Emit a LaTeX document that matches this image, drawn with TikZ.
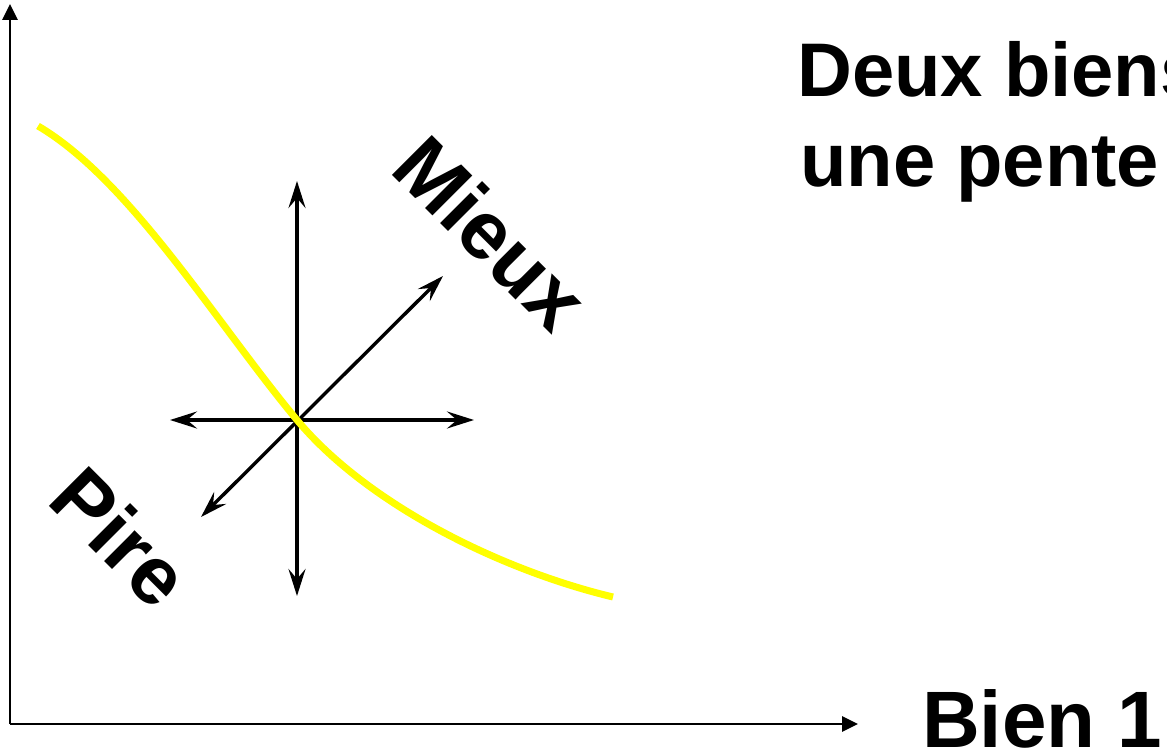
\documentclass[tikz,border=0pt]{standalone}
\usepackage{fontspec}
\setmainfont{Liberation Sans}
\usetikzlibrary{arrows.meta}
\tikzset{
  axisline/.style={line width=2.7pt, -{Triangle[length=16pt,width=15pt]}},
  dirarrow/.style={line width=3.4pt, {Stealth[length=27pt,width=17pt,inset=10pt]}-{Stealth[length=27pt,width=17pt,inset=10pt]}},
  curveline/.style={line width=7pt, draw={rgb,255:red,255;green,255;blue,0}},
  bigtext/.style={inner sep=0pt, font=\fontsize{76}{90}\selectfont\bfseries},
  labeltext/.style={inner sep=0pt, font=\fontsize{82}{90}\selectfont\bfseries, rotate=-45},
}
\begin{document}
\begin{tikzpicture}[x=1pt,y=-1pt]
\useasboundingbox (0,0) rectangle (1167,751);
% axes
\coordinate (O) at (10,724);
\coordinate (ytip) at (10,4);
\coordinate (xtip) at (858,724);
\draw[axisline] (O) -- (ytip);
\draw[axisline] (O) -- (xtip);
% direction arrows
\coordinate (c) at (297,420);
\coordinate (up) at (297,181);
\coordinate (down) at (297,596);
\coordinate (left) at (170,420);
\coordinate (right) at (474,420);
\coordinate (ne) at (443,276);
\coordinate (sw) at (201,517);
\draw[dirarrow] (down) -- (up);
\draw[dirarrow] (left) -- (right);
\draw[dirarrow] (sw) -- (ne);
% indifference curve
\coordinate (cs) at (38,126);
\coordinate (ce) at (613,597);
\draw[curveline] (cs) .. controls (130,180) and (217,324) .. (c)
                      .. controls (367,504) and (500,570) .. (ce);
% labels
\node[labeltext] (mieux) at (491,233) {Mieux};
\node[labeltext] (pire) at (121,537) {Pire};
\node[bigtext, anchor=base west] (t1) at (797,97) {Deux biens};
\node[bigtext, anchor=base west] (t2) at (800,187) {une pente};
\node[bigtext, font=\fontsize{80}{90}\selectfont\bfseries, anchor=base west] (bien) at (922,747) {Bien 1};
\end{tikzpicture}
\end{document}
